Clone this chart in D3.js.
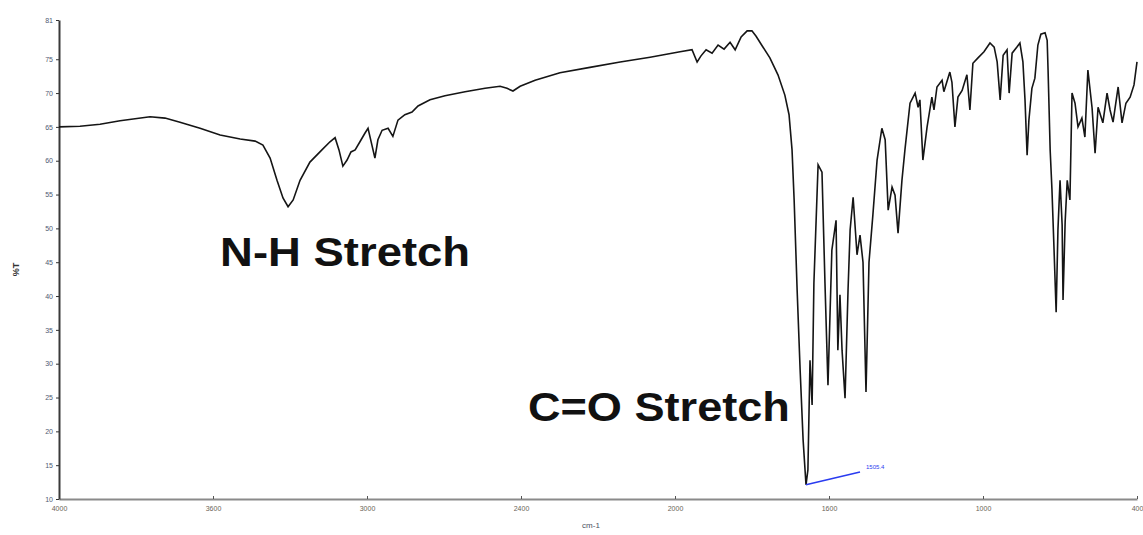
<!DOCTYPE html>
<html>
<head>
<meta charset="utf-8">
<script src="https://cdn.jsdelivr.net/npm/d3@7"></script>
<style>
  body { margin: 0; background: #fff; }
  svg { display: block; }
</style>
</head>
<body>
<svg id="chart" width="1143" height="535"></svg>
<script>
// IR spectrum: wavenumber (cm-1) against transmittance (%T)
const wavenumbers = [4000,3930,3863,3796,3696,3646,3596,3529,3462,3395,
  3345,3319,3295,3272,3252,3235,3218,3195,3162,3122,
  3095,3078,3065,3052,3038,3025,3011,2995,2978,2968,
  2955,2945,2935,2921,2901,2885,2868,2845,2821,2801,
  2761,2711,2644,2577,2527,2504,2484,2460,2410,2327,
  2227,2126,2026,1926,1886,1869,1856,1839,1819,1799,
  1779,1759,1742,1722,1702,1686,1672,1652,1626,1599,
  1576,1562,1552,1545,1535,1525,1515,1505.4,1499,1492,
  1485,1479,1465,1452,1442,1432,1419,1405,1399,1392,
  1385,1375,1365,1358,1348,1335,1325,1315,1305,1295,
  1282,1268,1252,1241,1231,1218,1208,1198,1185,1175,
  1158,1141,1131,1125,1115,1101,1085,1078,1068,1051,
  1045,1025,1018,1008,998,984,968,958,948,931,
  911,891,877,867,857,847,834,827,817,801,
  791,781,774,767,761,751,741,731,721,707,
  700,697,690,684,677,670,664,657,650,647,
  640,633,624,617,607,597,584,574,564,550,
  540,530,514,500,490,480,463,450,437,423,
  410,400];

const transmittance = [65.0,65.1,65.4,65.9,66.5,66.3,65.7,64.8,63.8,63.2,
  62.9,62.3,60.4,57.1,54.5,53.2,54.2,57.1,59.8,61.6,
  62.8,63.4,61.6,59.2,60.1,61.3,61.6,62.8,64.1,64.8,
  62.3,60.4,63.1,64.5,64.8,63.6,66.0,66.8,67.2,68.1,
  69.0,69.6,70.2,70.7,71.0,70.7,70.3,71.0,71.9,73.0,
  73.8,74.6,75.3,76.1,76.4,74.6,75.5,76.4,75.9,77.1,
  76.5,77.5,76.4,78.3,79.2,79.2,78.4,77.0,75.2,72.7,
  69.7,66.8,61.6,54.2,40.9,29.1,18.7,12.1,14.3,30.5,
  23.9,41.9,59.4,58.3,41.9,26.8,46.8,51.2,32.0,40.2,
  32.0,24.9,40.9,49.8,54.6,46.1,49.0,45.0,25.8,45.0,
  52.0,60.1,64.8,63.1,52.7,56.1,54.9,49.3,57.1,61.6,
  68.5,70.0,67.9,69.0,60.1,65.0,69.4,67.5,70.9,71.9,
  70.2,73.1,71.6,65.0,69.4,70.4,72.7,67.5,74.4,75.2,
  76.1,77.4,76.8,74.6,69.0,75.6,76.4,70.0,75.9,76.8,
  77.4,74.6,69.0,60.8,66.0,70.7,72.2,77.1,78.7,78.9,
  77.8,73.4,61.6,55.7,46.8,37.6,49.8,57.1,50.5,39.4,
  50.9,57.1,54.2,70.0,68.5,65.0,66.3,63.5,73.4,67.8,
  61.1,67.9,65.6,70.0,67.5,65.7,70.9,65.6,68.5,69.4,
  71.2,74.6];

const xTickLabels = ["4000","3600","3000","2400","2000","1600","1000","400"];
const yTickValues = [10,15,20,25,30,35,40,45,50,55,60,65,70,75,80.8];
const bandLabels = ["N-H Stretch", "C=O Stretch"];
const pickLineEnd = [1325, 14.0];   // end of the peak-pick leader (cm-1, %T)

// ---- layout ----
const width = 1143, height = 535;
const plot = { left: 59, right: 1137, top: 20, bottom: 499 };

const svg = d3.select("#chart");
svg.append("rect").attr("width", width).attr("height", height).attr("fill", "#fff");

const x = d3.scaleLinear().domain([4000, 400]).range([plot.left, plot.right]);
const y = d3.scaleLinear().domain([10, 80.8]).range([plot.bottom, plot.top]);

const points = wavenumbers.map((w, i) => ({ w, t: transmittance[i] }));

// ---- axes ----
const xTickValues = d3.range(xTickLabels.length)
  .map(i => 4000 - i * (3600 / (xTickLabels.length - 1)));

const xAxis = svg.append("g")
  .attr("transform", `translate(0,${plot.bottom})`)
  .call(d3.axisBottom(x)
    .tickValues(xTickValues)
    .tickSizeInner(-3)
    .tickSizeOuter(0)
    .tickPadding(7)
    .tickFormat((d, i) => xTickLabels[i]));
xAxis.select(".domain").attr("stroke", "#8a8a8a").attr("stroke-width", 2);
xAxis.selectAll(".tick line").attr("stroke", "#555");
xAxis.selectAll("text")
  .attr("font-family", "Liberation Sans, Arial, sans-serif")
  .attr("font-size", 7)
  .attr("fill", "#6b6458");

const yAxis = svg.append("g")
  .attr("transform", `translate(${plot.left},0)`)
  .call(d3.axisLeft(y)
    .tickValues(yTickValues)
    .tickSizeInner(3)
    .tickSizeOuter(0)
    .tickPadding(3)
    .tickFormat(d3.format(".0f")));
yAxis.select(".domain").attr("stroke", "#3a3a3a").attr("stroke-width", 2);
yAxis.selectAll(".tick line").attr("stroke", "#333");
yAxis.selectAll("text")
  .attr("font-family", "Liberation Sans, Arial, sans-serif")
  .attr("font-size", 7)
  .attr("fill", "#4f5b72");

// axis titles
svg.append("text")
  .attr("transform", `translate(19,${(plot.top + plot.bottom) / 2 + 10}) rotate(-90)`)
  .attr("text-anchor", "middle")
  .attr("font-family", "Liberation Sans, Arial, sans-serif")
  .attr("font-size", 9)
  .attr("font-weight", "bold")
  .attr("fill", "#333")
  .text("%T");

svg.append("text")
  .attr("x", 591).attr("y", 528)
  .attr("text-anchor", "middle")
  .attr("font-family", "Liberation Sans, Arial, sans-serif")
  .attr("font-size", 8)
  .attr("fill", "#4a5060")
  .text("cm-1");

// ---- spectrum ----
const line = d3.line().x(d => x(d.w)).y(d => y(d.t));
svg.append("path")
  .datum(points)
  .attr("d", line)
  .attr("fill", "none")
  .attr("stroke", "#151515")
  .attr("stroke-width", 1.6)
  .attr("stroke-linejoin", "miter");

// ---- peak pick on the deepest band ----
const peak = points[d3.minIndex(points, d => d.t)];
svg.append("line")
  .attr("x1", x(peak.w)).attr("y1", y(peak.t))
  .attr("x2", x(pickLineEnd[0])).attr("y2", y(pickLineEnd[1]))
  .attr("stroke", "#2a3cf0")
  .attr("stroke-width", 1.6);
svg.append("text")
  .attr("x", x(pickLineEnd[0]) + 6).attr("y", y(pickLineEnd[1]) - 3)
  .attr("font-family", "Liberation Sans, Arial, sans-serif")
  .attr("font-size", 6)
  .attr("fill", "#2a3cf0")
  .text(d3.format(".1f")(peak.w));

// ---- band annotations ----
const bandAnchors = [
  { w: 3462, t: 44.4, len: 250 },
  { w: 2434, t: 21.5, len: 262 }
];
bandLabels.forEach((label, i) => {
  const a = bandAnchors[i];
  svg.append("text")
    .attr("x", x(a.w)).attr("y", y(a.t))
    .attr("font-family", "Liberation Sans, Arial, sans-serif")
    .attr("font-size", 40)
    .attr("font-weight", "bold")
    .attr("fill", "#111")
    .attr("textLength", a.len)
    .attr("lengthAdjust", "spacingAndGlyphs")
    .text(label);
});
</script>
</body>
</html>
